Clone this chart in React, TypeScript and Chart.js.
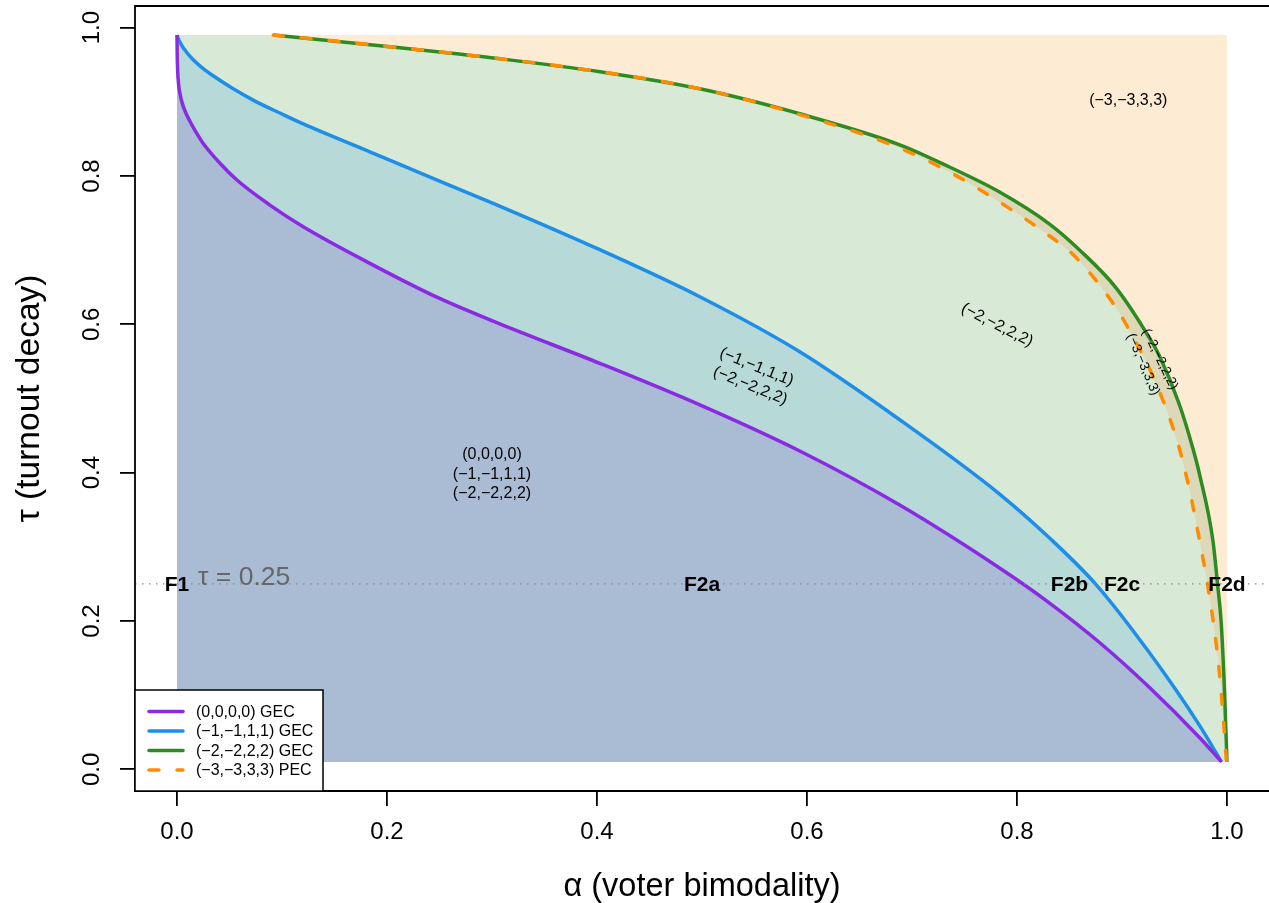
import React, { useEffect, useRef } from "react";
import { Chart, registerables } from "chart.js";

Chart.register(...registerables);

const FONT = "'Liberation Sans', Arial, Helvetica, sans-serif";

// ---- axes ----
const alphaRange = [0, 1];
const tauRange = [0.01, 0.99];
const alphaTicks = [0, 0.2, 0.4, 0.6, 0.8, 1.0];
const alphaTickLabels = ["0.0", "0.2", "0.4", "0.6", "0.8", "1.0"];
const tauTicks = [0, 0.2, 0.4, 0.6, 0.8, 1.0];
const tauTickLabels = ["0.0", "0.2", "0.4", "0.6", "0.8", "1.0"];

// ---- curves (alpha, tau) ----
const gec0Alpha = [0, 0.0002, 0.0006, 0.0014, 0.0029, 0.0048, 0.0076, 0.0124, 0.0181, 0.025, 0.0381, 0.0568, 0.0885, 0.1202, 0.1837, 0.2475, 0.3075, 0.4027, 0.4979, 0.5931, 0.6883, 0.7834, 0.831, 0.8786, 0.9262, 0.9738, 0.9948];
const gec0Tau = [0.99, 0.9631, 0.9428, 0.9253, 0.9105, 0.899, 0.8876, 0.8734, 0.8592, 0.8437, 0.8215, 0.7949, 0.7608, 0.7316, 0.6822, 0.6366, 0.6006, 0.5474, 0.4914, 0.4292, 0.3563, 0.2714, 0.2242, 0.171, 0.1103, 0.0429, 0.01];

const gec1Alpha = [0, 0.001, 0.0038, 0.0086, 0.0152, 0.0238, 0.0362, 0.0524, 0.0743, 0.098, 0.1202, 0.1837, 0.2472, 0.3106, 0.4027, 0.4979, 0.5931, 0.6883, 0.7834, 0.831, 0.8757, 0.9262, 0.9738, 0.9948];
const gec1Tau = [0.99, 0.986, 0.9779, 0.9678, 0.957, 0.9462, 0.9334, 0.9186, 0.901, 0.8849, 0.8703, 0.8326, 0.7948, 0.7575, 0.7006, 0.6372, 0.563, 0.4714, 0.3712, 0.3119, 0.2485, 0.1571, 0.0593, 0.01];

const gec2Alpha = [0.0917, 0.2123, 0.3075, 0.4027, 0.4979, 0.5931, 0.6883, 0.7358, 0.7834, 0.831, 0.8596, 0.8945, 0.9262, 0.9357, 0.9548, 0.9674, 0.9738, 0.9865, 0.991, 0.9945, 0.9976, 1.0];
const gec2Tau = [0.99, 0.9729, 0.9581, 0.9406, 0.9176, 0.8839, 0.8421, 0.8121, 0.7784, 0.7352, 0.7002, 0.6489, 0.5815, 0.5572, 0.4912, 0.4332, 0.3981, 0.3092, 0.2498, 0.1973, 0.1069, 0.01];

const pec3Alpha = [0.0917, 0.2123, 0.3075, 0.4027, 0.4979, 0.5931, 0.6883, 0.7358, 0.7834, 0.831, 0.8548, 0.8945, 0.9103, 0.931, 0.9532, 0.9643, 0.9738, 0.9814, 0.988, 0.9928, 0.9966, 0.9995];
const pec3Tau = [0.99, 0.9729, 0.9581, 0.9406, 0.9176, 0.8828, 0.8377, 0.8053, 0.7649, 0.7191, 0.6921, 0.622, 0.5833, 0.5249, 0.4395, 0.3766, 0.3091, 0.2498, 0.1878, 0.1298, 0.0665, 0.01];

const seriesNames = ["(0,0,0,0) GEC", "(−1,−1,1,1) GEC", "(−2,−2,2,2) GEC", "(−3,−3,3,3) PEC"];

// ---- reference line & annotations ----
const tauRef = 0.25;
const tauRefLabel = "τ = 0.25";
const frontierLabels = ["F1", "F2a", "F2b", "F2c", "F2d"];
const frontierAlpha = [0.0, 0.5, 0.85, 0.9, 1.0];

const regionTexts = ["(0,0,0,0)", "(−1,−1,1,1)", "(−2,−2,2,2)", "(−1,−1,1,1)", "(−2,−2,2,2)", "(−2,−2,2,2)", "(−3,−3,3,3)", "(−2,−2,2,2)", "(−3,−3,3,3)"];
const regionAlpha = [0.3, 0.3, 0.3, 0.552, 0.546, 0.781, 0.906, 0.936, 0.92];
const regionTau = [0.424, 0.398, 0.372, 0.5425, 0.517, 0.599, 0.901, 0.553, 0.546];
const regionAngle = [0, 0, 0, 22, 22, 27, 0, 64, 67];

// ---- styles ----
const lineColors = ["#8A2BE2", "#1E8EE8", "#2E8B22", "#FF8C00"];
const fillColors = { lav: "#AABCD4", teal: "#B7D9D8", lgreen: "#D8EAD6", tan: "#DDD8B7", peach: "#FEEBD4" };

const zip = (xs: number[], ys: number[]) => xs.map((v, i) => ({ x: v, y: ys[i] }));
const expand = (r: number[]) => {
  const d = (r[1] - r[0]) * 0.04;
  return [r[0] - d, r[1] + d];
};

const overlay = {
  id: "overlay",
  afterDatasetsDraw(chart: any) {
    const { ctx, scales } = chart;
    const X = (v: number) => scales.x.getPixelForValue(v);
    const Y = (v: number) => scales.y.getPixelForValue(v);
    ctx.save();
    ctx.fillStyle = "#666666";
    ctx.font = `26.5px ${FONT}`;
    ctx.textAlign = "left";
    ctx.textBaseline = "middle";
    ctx.fillText(tauRefLabel, X(0.02), Y(0.259));

    ctx.fillStyle = "#000";
    ctx.font = `bold 21px ${FONT}`;
    ctx.textAlign = "center";
    frontierLabels.forEach((l, i) => ctx.fillText(l, X(frontierAlpha[i]), Y(tauRef) + 1));

    regionTexts.forEach((t, i) => {
      const small = i >= 7;
      ctx.save();
      ctx.translate(X(regionAlpha[i]), Y(regionTau[i]));
      ctx.rotate((regionAngle[i] * Math.PI) / 180);
      ctx.font = `${small ? 13.5 : 16}px ${FONT}`;
      ctx.fillStyle = "#000";
      ctx.textAlign = "center";
      ctx.textBaseline = "middle";
      ctx.fillText(t, 0, 0);
      ctx.restore();
    });
    ctx.restore();
  },
  afterDraw(chart: any) {
    const { ctx, chartArea } = chart;
    const { left, top, right, bottom } = chartArea;
    ctx.save();
    ctx.strokeStyle = "#000";
    ctx.lineWidth = 1.8;
    ctx.beginPath();
    ctx.moveTo(right + 5, top);
    ctx.lineTo(left, top);
    ctx.lineTo(left, bottom);
    ctx.lineTo(right + 5, bottom);
    ctx.stroke();

    // legend (bottom-left inside plot box)
    const lw = 188, lh = 101;
    const lx = left, ly = bottom - lh;
    ctx.fillStyle = "#fff";
    ctx.fillRect(lx, ly, lw, lh);
    ctx.lineWidth = 1.5;
    ctx.strokeRect(lx, ly, lw, lh);
    ctx.font = `16px ${FONT}`;
    ctx.textAlign = "left";
    ctx.textBaseline = "middle";
    seriesNames.forEach((name, i) => {
      const yy = ly + 21.5 + i * 19.5;
      ctx.strokeStyle = lineColors[i];
      ctx.lineWidth = 3.5;
      ctx.lineCap = "round";
      ctx.setLineDash(i === 3 ? [10, 18] : []);
      ctx.beginPath();
      ctx.moveTo(lx + 14, yy);
      ctx.lineTo(lx + 48, yy);
      ctx.stroke();
      ctx.setLineDash([]);
      ctx.fillStyle = "#000";
      ctx.fillText(name, lx + 61, yy + 1);
    });
    ctx.restore();
  },
};

export default function App() {
  const ref = useRef<HTMLCanvasElement>(null);
  useEffect(() => {
    const canvas = ref.current!;
    const [xMin, xMax] = expand(alphaRange);
    const [yMin, yMax] = expand(tauRange);
    const common = { pointRadius: 0, cubicInterpolationMode: "monotone" as const };
    const datasets: any[] = [
      { ...common, label: seriesNames[0], data: zip(gec0Alpha, gec0Tau), borderColor: lineColors[0], borderWidth: 3.5, backgroundColor: fillColors.lav, fill: { value: tauRange[0] }, order: 1 },
      { ...common, label: seriesNames[1], data: zip(gec1Alpha, gec1Tau), borderColor: lineColors[1], borderWidth: 3.5, backgroundColor: fillColors.teal, fill: { value: tauRange[0] }, order: 2 },
      { ...common, label: seriesNames[2], data: zip(gec2Alpha, gec2Tau), borderColor: lineColors[2], borderWidth: 3.5, backgroundColor: fillColors.tan, fill: { value: tauRange[0] }, order: 4 },
      { ...common, label: seriesNames[3], data: zip(pec3Alpha, pec3Tau), borderColor: lineColors[3], borderWidth: 3.5, borderDash: [10, 18], borderCapStyle: "round", backgroundColor: fillColors.lgreen, fill: { value: tauRange[0] }, order: 3 },
      { ...common, label: "strip", data: zip([alphaRange[0], gec2Alpha[0] + 0.003], [tauRange[1], tauRange[1]]), borderWidth: 0, borderColor: "rgba(0,0,0,0)", backgroundColor: fillColors.lgreen, fill: { value: tauRange[0] }, order: 3.5 },
      { ...common, label: "bg", data: zip(alphaRange, [tauRange[1], tauRange[1]]), borderWidth: 0, borderColor: "rgba(0,0,0,0)", backgroundColor: fillColors.peach, fill: { value: tauRange[0] }, order: 5 },
      { ...common, label: "ref", data: zip([xMin, xMax], [tauRef, tauRef]), borderColor: "#8a8a8a", borderWidth: 1.3, borderDash: [1.5, 5.5], fill: false, order: 0 },
    ];
    const chart = new Chart(canvas, {
      type: "line",
      data: { datasets },
      options: {
        animation: false,
        responsive: false,
        maintainAspectRatio: false,
        devicePixelRatio: 1,
        layout: { padding: { top: 6, right: 0, left: 0, bottom: 0 } },
        plugins: {
          legend: { display: false },
          tooltip: { enabled: false },
          filler: { drawTime: "beforeDatasetsDraw" },
        } as any,
        scales: {
          x: {
            type: "linear",
            min: xMin,
            max: xMax,
            afterBuildTicks: (s: any) => {
              s.ticks = alphaTicks.map((v) => ({ value: v }));
            },
            afterFit: (s: any) => {
              s.height = 112;
              s.paddingLeft = 0;
              s.paddingRight = 0;
              s.paddingTop = 0;
              s.paddingBottom = 0;
            },
            border: { display: false },
            grid: { drawOnChartArea: false, drawTicks: true, tickLength: 15, color: "#000", tickColor: "#000", lineWidth: 1.8, tickWidth: 1.8 },
            ticks: {
              autoSkip: false,
              maxRotation: 0,
              minRotation: 0,
              padding: 12,
              color: "#000",
              font: { size: 24, family: FONT },
              callback: (_v: any, i: number) => alphaTickLabels[i],
            },
            title: { display: true, text: "α (voter bimodality)", color: "#000", font: { size: 32.5, family: FONT, lineHeight: 1 }, padding: { top: 0, bottom: 0 } },
          },
          y: {
            type: "linear",
            min: yMin,
            max: yMax,
            afterBuildTicks: (s: any) => {
              s.ticks = tauTicks.map((v) => ({ value: v }));
            },
            afterFit: (s: any) => {
              s.width = 135;
              s.paddingLeft = 0;
              s.paddingRight = 0;
              s.paddingTop = 0;
              s.paddingBottom = 0;
            },
            border: { display: false },
            grid: { drawOnChartArea: false, drawTicks: true, tickLength: 15, color: "#000", tickColor: "#000", lineWidth: 1.8, tickWidth: 1.8 },
            ticks: {
              autoSkip: false,
              minRotation: 90,
              maxRotation: 90,
              crossAlign: "center",
              padding: 11,
              color: "#000",
              font: { size: 24, family: FONT },
              callback: (_v: any, i: number) => tauTickLabels[i],
            },
            title: { display: true, text: "τ (turnout decay)", color: "#000", font: { size: 33.5, family: FONT, lineHeight: 1 }, padding: { top: 13.5, bottom: 0 } },
          },
        },
      } as any,
      plugins: [overlay],
    });
    return () => chart.destroy();
  }, []);
  return (
    <div style={{ position: "absolute", left: 0, top: 0, width: 1269, height: 903, background: "#fff", overflow: "hidden" }}>
      <canvas ref={ref} width={1269} height={903} style={{ display: "block", width: 1269, height: 903 }} />
    </div>
  );
}
